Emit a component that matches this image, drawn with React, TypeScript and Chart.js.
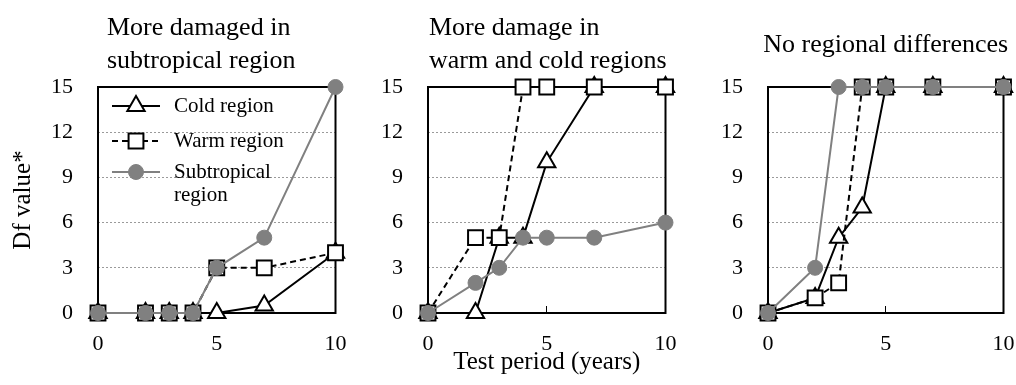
import React, { useEffect, useRef } from 'react';
import { Chart, registerables } from 'chart.js';
import { drawPoint } from 'chart.js/helpers';

Chart.register(...registerables);

// ---------- data ----------
const years = [0, 2, 3, 4, 5, 7, 10];

const p1Cold = [0, 0, 0, 0, 0, 0.5, 4];
const p1Warm = [0, 0, 0, 0, 3, 3, 4];
const p1Sub = [0, 0, 0, 0, 3, 5, 15];

const p2Cold = [0, 0, 5, 5, 10, 15, 15];
const p2Warm = [0, 5, 5, 15, 15, 15, 15];
const p2Sub = [0, 2, 3, 5, 5, 5, 6];

const p3Cold = [0, 1, 5, 7, 15, 15, 15];
const p3Warm = [0, 1, 2, 15, 15, 15, 15];
const p3Sub = [0, 3, 15, 15, 15, 15, 15];

const seriesNames = ['Cold region', 'Warm region', 'Subtropical region'];
const legendLabels = [['Cold region'], ['Warm region'], ['Subtropical', 'region']];
const panelTitles = [
  ['More damaged in', 'subtropical region'],
  ['More damage in', 'warm and cold regions'],
  ['No regional differences'],
];
const yAxisTitle = 'Df value*';
const xAxisTitle = 'Test period (years)';
const xMin = 0, xMax = 10, xStep = 5;
const yMin = 0, yMax = 15, yStep = 3;

// ---------- styles ----------
const FONT = "'Liberation Serif', 'Times New Roman', serif";
const GRAY = '#808080';
const SERIES_STYLE = [
  { color: '#000', dash: [] as number[], pointStyle: 'triangle', radius: 10, fill: '#fff', pbw: 2, order: 3 },
  { color: '#000', dash: [6, 4], pointStyle: 'rect', radius: 10.5, fill: '#fff', pbw: 2, order: 2 },
  { color: GRAY, dash: [] as number[], pointStyle: 'circle', radius: 7.5, fill: GRAY, pbw: 1, order: 1 },
];

type PanelProps = {
  left: number;
  width: number;
  plotLeft: number;
  plotRight: number;
  values: number[][];
  title: string[];
  titleAlign: 'start' | 'center';
  titleIndent: number;
  showYTitle: boolean;
  showXTitle: boolean;
  showLegend: boolean;
};

function Panel(p: PanelProps) {
  const ref = useRef<HTMLCanvasElement>(null);
  useEffect(() => {
    const datasets = p.values.map((vals, i) => {
      const s = SERIES_STYLE[i];
      return {
        label: seriesNames[i],
        data: years.map((x, j) => ({ x, y: vals[j] })),
        borderColor: s.color,
        borderWidth: 2,
        borderDash: s.dash,
        pointStyle: s.pointStyle,
        pointRadius: s.radius,
        pointBackgroundColor: s.fill,
        pointBorderColor: s.color,
        pointBorderWidth: s.pbw,
        tension: 0,
        fill: false,
        clip: false as any,
        order: s.order,
      };
    });

    const titlePlugin = {
      id: 'panelTitle',
      afterDraw(chart: any) {
        const ctx = chart.ctx;
        const a = chart.chartArea;
        ctx.save();
        ctx.font = `26px ${FONT}`;
        ctx.fillStyle = '#000';
        ctx.textBaseline = 'alphabetic';
        if (p.titleAlign === 'start') {
          ctx.textAlign = 'left';
          p.title.forEach((l, i) => ctx.fillText(l, a.left + p.titleIndent, 35 + i * 33));
        } else {
          ctx.textAlign = 'center';
          p.title.forEach((l, i) => ctx.fillText(l, (a.left + a.right) / 2, 52 + i * 33));
        }
        ctx.restore();
      },
    };

    const boxPlugin = {
      id: 'plotBox',
      beforeDatasetsDraw(chart: any) {
        const ctx = chart.ctx;
        const a = chart.chartArea;
        ctx.save();
        ctx.strokeStyle = '#000';
        ctx.lineWidth = 2;
        ctx.setLineDash([]);
        ctx.strokeRect(a.left, a.top, a.right - a.left, a.bottom - a.top);
        ctx.restore();
      },
    };

    const legendPlugin = {
      id: 'innerLegend',
      afterDatasetsDraw(chart: any) {
        if (!p.showLegend) return;
        const ctx = chart.ctx;
        const a = chart.chartArea;
        const rows = [a.top + 19, a.top + 54, a.top + 85];
        ctx.save();
        rows.forEach((y, i) => {
          const s = SERIES_STYLE[i];
          ctx.strokeStyle = s.color;
          ctx.lineWidth = 2;
          ctx.setLineDash(s.dash);
          ctx.beginPath();
          ctx.moveTo(a.left + 14, y);
          ctx.lineTo(a.left + 62, y);
          ctx.stroke();
          ctx.setLineDash([]);
          ctx.fillStyle = s.fill;
          ctx.strokeStyle = s.color;
          ctx.lineWidth = s.pbw;
          drawPoint(ctx, { pointStyle: s.pointStyle as any, radius: s.radius, rotation: 0, borderWidth: s.pbw } as any, a.left + 38, y);
          ctx.fillStyle = '#000';
          ctx.font = `21px ${FONT}`;
          ctx.textAlign = 'left';
          ctx.textBaseline = 'middle';
          legendLabels[i].forEach((t, k) => ctx.fillText(t, a.left + 76, y + k * 23));
        });
        ctx.restore();
      },
    };

    const chart = new Chart(ref.current!, {
      type: 'line',
      data: { datasets: datasets as any },
      options: {
        responsive: false,
        animation: false,
        devicePixelRatio: 1,
        layout: { padding: { left: 0, right: p.width - p.plotRight, top: 87, bottom: 0 } },
        plugins: { legend: { display: false }, tooltip: { enabled: false }, title: { display: false } },
        scales: {
          x: {
            type: 'linear',
            min: xMin,
            max: xMax,
            border: { display: false },
            grid: { drawOnChartArea: false, drawTicks: true, tickLength: -7, color: '#000', lineWidth: 1 },
            ticks: { stepSize: xStep, padding: 25, color: '#000', font: { family: FONT, size: 22 }, maxRotation: 0, autoSkip: false },
            title: { display: p.showXTitle, text: xAxisTitle, color: '#000', font: { family: FONT, size: 25 }, padding: { top: 0, bottom: 8 } },
            afterFit(scale: any) {
              scale.height = 72;
              scale.paddingLeft = 0;
              scale.paddingRight = 0;
            },
          },
          y: {
            type: 'linear',
            min: yMin,
            max: yMax,
            border: { display: false, dash: [2, 2] },
            grid: { drawTicks: false, color: '#9a9a9a', lineWidth: 1 },
            ticks: { stepSize: yStep, padding: 25, color: '#000', font: { family: FONT, size: 22 } },
            title: { display: p.showYTitle, text: yAxisTitle, color: '#000', font: { family: FONT, size: 25 }, padding: { top: 8, bottom: 0 } },
            afterFit(scale: any) {
              scale.width = p.plotLeft;
              scale.paddingTop = 0;
              scale.paddingBottom = 0;
            },
          },
        },
      },
      plugins: [boxPlugin, legendPlugin, titlePlugin],
    });
    return () => chart.destroy();
  }, []);
  return <canvas ref={ref} width={p.width} height={385} style={{ position: 'absolute', left: p.left, top: 0 }} />;
}

export default function App() {
  return (
    <div style={{ position: 'absolute', left: 0, top: 0, width: 1016, height: 385, background: '#fff', overflow: 'hidden' }}>
      <Panel left={0} width={348} plotLeft={98} plotRight={338} values={[p1Cold, p1Warm, p1Sub]}
        title={panelTitles[0]} titleAlign="start" titleIndent={9} showYTitle showXTitle={false} showLegend />
      <Panel left={348} width={330} plotLeft={80} plotRight={319} values={[p2Cold, p2Warm, p2Sub]}
        title={panelTitles[1]} titleAlign="start" titleIndent={1} showYTitle={false} showXTitle showLegend={false} />
      <Panel left={678} width={338} plotLeft={90} plotRight={329} values={[p3Cold, p3Warm, p3Sub]}
        title={panelTitles[2]} titleAlign="center" titleIndent={0} showYTitle={false} showXTitle={false} showLegend={false} />
    </div>
  );
}
